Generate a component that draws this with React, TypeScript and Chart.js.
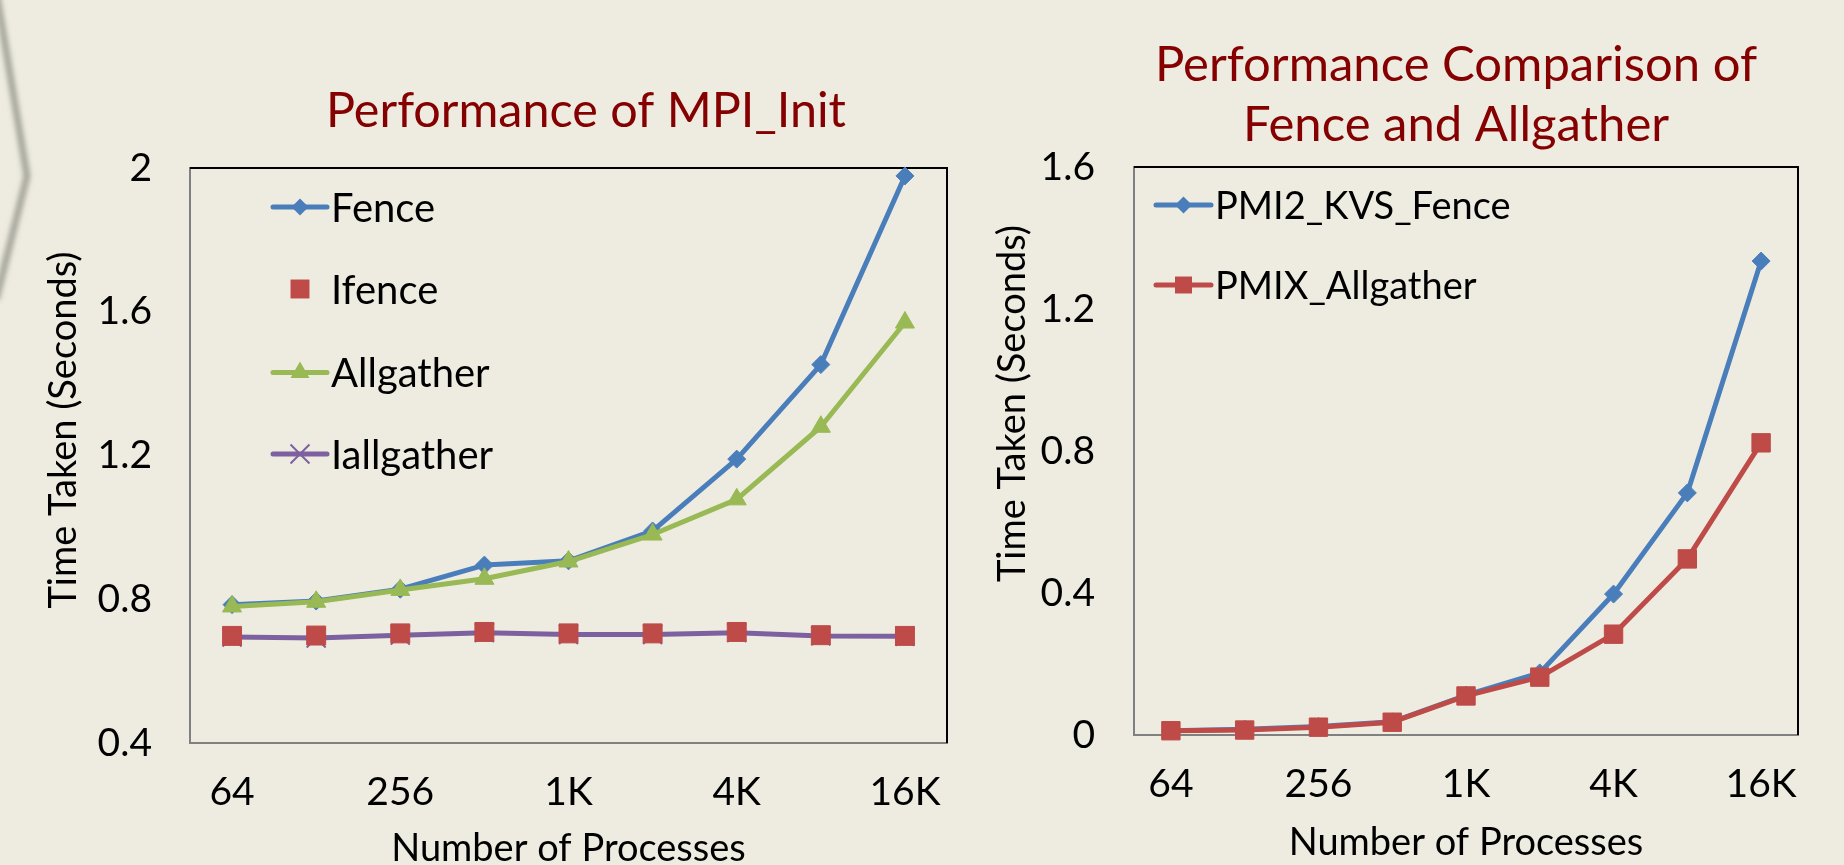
import React, { useEffect, useRef } from 'react';
import { Chart, registerables } from 'chart.js';

Chart.register(...registerables);

// ---------- data ----------
const categories = ['64', '128', '256', '512', '1K', '2K', '4K', '8K', '16K'];
const xTickLabels = ['64', '', '256', '', '1K', '', '4K', '', '16K'];

const fence = [0.785, 0.795, 0.828, 0.895, 0.907, 0.99, 1.19, 1.453, 1.978];
const ifence = [0.698, 0.699, 0.705, 0.709, 0.705, 0.705, 0.709, 0.7, 0.698];
const allgather = [0.78, 0.793, 0.826, 0.857, 0.905, 0.98, 1.078, 1.28, 1.57];
const iallgather = [0.695, 0.692, 0.7, 0.707, 0.702, 0.702, 0.707, 0.698, 0.697];

const pmi2KvsFence = [0.012, 0.016, 0.024, 0.037, 0.112, 0.175, 0.397, 0.682, 1.335];
const pmixAllgather = [0.012, 0.014, 0.022, 0.036, 0.11, 0.163, 0.284, 0.496, 0.823];

const leftTitle = 'Performance of MPI_Init';
const rightTitle = ['Performance Comparison of', 'Fence and Allgather'];
const xTitle = 'Number of Processes';
const yTitle = 'Time Taken (Seconds)';

// ---------- styles ----------
const FONT = 'Lato';
const BG = '#EEECE1';
const BLUE = '#4A7EBB';
const RED = '#BE4B48';
const GREEN = '#98B954';
const PURPLE = '#7D60A0';
const TITLE_RED = '#850000';
const AXIS_GREY = '#808080';

Chart.defaults.font.family = FONT;
Chart.defaults.color = '#000';

type Marker = 'rectRot' | 'rect' | 'triangle' | 'crossRot';

function drawMarker(ctx: CanvasRenderingContext2D, m: Marker, x: number, y: number, r: number, color: string) {
  ctx.save();
  ctx.fillStyle = color;
  ctx.strokeStyle = color;
  ctx.beginPath();
  if (m === 'rectRot') {
    ctx.moveTo(x, y - r);
    ctx.lineTo(x + r, y);
    ctx.lineTo(x, y + r);
    ctx.lineTo(x - r, y);
    ctx.closePath();
    ctx.fill();
  } else if (m === 'rect') {
    const h = r * Math.SQRT1_2;
    ctx.rect(x - h, y - h, 2 * h, 2 * h);
    ctx.fill();
  } else if (m === 'triangle') {
    const s = Math.sin((2 * Math.PI) / 3) * r;
    ctx.moveTo(x, y - r);
    ctx.lineTo(x + s, y + r / 2);
    ctx.lineTo(x - s, y + r / 2);
    ctx.closePath();
    ctx.fill();
  } else {
    const d = r * Math.SQRT1_2;
    ctx.lineWidth = 2;
    ctx.moveTo(x - d, y - d);
    ctx.lineTo(x + d, y + d);
    ctx.moveTo(x + d, y - d);
    ctx.lineTo(x - d, y + d);
    ctx.stroke();
  }
  ctx.restore();
}

interface LegendCfg {
  fontSize: number;
  lineX0: number;
  lineX1: number;
  textX: number;
  rows: number[];
  lineFor: boolean[];
}

function makeSlidePlugin(id: string, legend: LegendCfg, yTitleCfg: { dx: number; dy: number; size: number }, titleShift: number) {
  return {
    id,
    afterLayout(chart: any) {
      const tb = chart.titleBlock;
      const ca = chart.chartArea;
      if (tb && ca) {
        tb.left = ca.left + titleShift;
        tb.right = ca.right + titleShift;
      }
    },
    beforeDatasetsDraw(chart: any) {
      const { ctx, chartArea: ca } = chart;
      ctx.save();
      ctx.strokeStyle = '#000';
      ctx.lineWidth = 2;
      ctx.beginPath();
      ctx.moveTo(ca.left, ca.top);
      ctx.lineTo(ca.right, ca.top);
      ctx.lineTo(ca.right, ca.bottom);
      ctx.stroke();
      ctx.restore();
    },
    afterDraw(chart: any) {
      const { ctx, chartArea: ca } = chart;
      // legend
      ctx.save();
      ctx.font = `${legend.fontSize}px ${FONT}`;
      ctx.textBaseline = 'middle';
      ctx.textAlign = 'left';
      chart.data.datasets.forEach((ds: any, i: number) => {
        const y = ca.top + legend.rows[i];
        const x0 = ca.left + legend.lineX0;
        const x1 = ca.left + legend.lineX1;
        if (legend.lineFor[i]) {
          ctx.save();
          ctx.strokeStyle = ds.borderColor;
          ctx.lineWidth = 5;
          ctx.lineCap = 'round';
          ctx.beginPath();
          ctx.moveTo(x0, y);
          ctx.lineTo(x1, y);
          ctx.stroke();
          ctx.restore();
        }
        drawMarker(ctx, ds.pointStyle, (x0 + x1) / 2, y, ds.legendRadius, ds.pointBackgroundColor);
        ctx.fillStyle = '#000';
        ctx.fillText(ds.label, ca.left + legend.textX, y + 2);
      });
      ctx.restore();
      // rotated y axis title
      ctx.save();
      ctx.font = `${yTitleCfg.size}px ${FONT}`;
      ctx.fillStyle = '#000';
      ctx.textAlign = 'center';
      ctx.textBaseline = 'middle';
      ctx.translate(ca.left + yTitleCfg.dx, ca.top + yTitleCfg.dy);
      ctx.rotate(-Math.PI / 2);
      ctx.fillText(yTitle, 0, 0);
      ctx.restore();
    },
  };
}

function fmt(v: number) {
  return String(Number(Number(v).toFixed(1)));
}

function xScale(height: number, titlePadBottom: number) {
  return {
    type: 'category' as const,
    offset: true,
    grid: { display: false, drawTicks: false, z: -1 },
    border: { display: true, color: AXIS_GREY, width: 2 },
    ticks: {
      autoSkip: false,
      maxRotation: 0,
      padding: 26,
      color: '#000',
      font: { size: 39 },
      callback: (_v: any, i: number) => xTickLabels[i],
    },
    title: {
      display: true,
      text: xTitle,
      color: '#000',
      font: { size: 38 },
      padding: { top: 0, bottom: titlePadBottom },
    },
    afterFit: (s: any) => {
      s.height = height;
    },
  };
}

function yScale(min: number, max: number, width: number, pad: number) {
  return {
    type: 'linear' as const,
    min,
    max,
    grid: { display: false, drawTicks: false, z: -1 },
    border: { display: true, color: AXIS_GREY, width: 2 },
    ticks: {
      stepSize: 0.4,
      padding: pad,
      color: '#000',
      font: { size: 39 },
      callback: (v: any) => fmt(v),
    },
    afterFit: (s: any) => {
      s.width = width;
    },
  };
}

export default function App() {
  const leftRef = useRef<HTMLCanvasElement>(null);
  const rightRef = useRef<HTMLCanvasElement>(null);

  useEffect(() => {
    const left = new Chart(leftRef.current as HTMLCanvasElement, {
      type: 'line',
      data: {
        labels: categories,
        datasets: [
          {
            label: 'Fence', data: fence, borderColor: BLUE, backgroundColor: BLUE, borderWidth: 5,
            pointStyle: 'rectRot', pointRadius: 9, pointBackgroundColor: BLUE, pointBorderColor: BLUE,
            pointBorderWidth: 1, order: 4, legendRadius: 8.5,
          } as any,
          {
            label: 'Ifence', data: ifence, borderColor: RED, backgroundColor: RED, showLine: false,
            pointStyle: 'rect', pointRadius: 13.4, pointBackgroundColor: RED, pointBorderColor: RED,
            pointBorderWidth: 1, order: 1, legendRadius: 13.4,
          } as any,
          {
            label: 'Allgather', data: allgather, borderColor: GREEN, backgroundColor: GREEN, borderWidth: 5,
            pointStyle: 'triangle', pointRadius: 11, pointBackgroundColor: GREEN, pointBorderColor: GREEN,
            pointBorderWidth: 1, order: 3, legendRadius: 11,
          } as any,
          {
            label: 'Iallgather', data: iallgather, borderColor: PURPLE, backgroundColor: PURPLE, borderWidth: 5,
            pointStyle: 'crossRot', pointRadius: 13.4, pointBackgroundColor: PURPLE, pointBorderColor: PURPLE,
            pointBorderWidth: 2, order: 2, legendRadius: 13.4,
          } as any,
        ],
      },
      options: {
        animation: false,
        responsive: false,
        events: [],
        clip: false as any,
        elements: { line: { tension: 0, borderJoinStyle: 'round', borderCapStyle: 'round' } },
        layout: { padding: { left: 0, right: 53, top: 0, bottom: 0 } },
        plugins: {
          legend: { display: false },
          tooltip: { enabled: false },
          title: {
            display: true,
            text: leftTitle,
            color: TITLE_RED,
            font: { size: 48.5, weight: 'normal', lineHeight: 56.4 / 48.5 },
            padding: { top: 82.8, bottom: 28.8 },
          },
        },
        scales: {
          x: xScale(157, 28),
          y: yScale(0.4, 2, 190, 38),
        },
      } as any,
      plugins: [
        makeSlidePlugin(
          'slideLeft',
          { fontSize: 40, lineX0: 83, lineX1: 137, textX: 141, rows: [39, 121, 204.5, 286], lineFor: [true, false, true, true] },
          { dx: -126, dy: 262, size: 38 },
          17.5,
        ),
      ],
    });

    const right = new Chart(rightRef.current as HTMLCanvasElement, {
      type: 'line',
      data: {
        labels: categories,
        datasets: [
          {
            label: 'PMI2_KVS_Fence', data: pmi2KvsFence, borderColor: BLUE, backgroundColor: BLUE, borderWidth: 5,
            pointStyle: 'rectRot', pointRadius: 9, pointBackgroundColor: BLUE, pointBorderColor: BLUE,
            pointBorderWidth: 1, order: 2, legendRadius: 8.5,
          } as any,
          {
            label: 'PMIX_Allgather', data: pmixAllgather, borderColor: RED, backgroundColor: RED, borderWidth: 5,
            pointStyle: 'rect', pointRadius: 13, pointBackgroundColor: RED, pointBorderColor: RED,
            pointBorderWidth: 1, order: 1, legendRadius: 12,
          } as any,
        ],
      },
      options: {
        animation: false,
        responsive: false,
        events: [],
        clip: false as any,
        elements: { line: { tension: 0, borderJoinStyle: 'round', borderCapStyle: 'round' } },
        layout: { padding: { left: 0, right: 46, top: 0, bottom: 0 } },
        plugins: {
          legend: { display: false },
          tooltip: { enabled: false },
          title: {
            display: true,
            text: rightTitle,
            color: TITLE_RED,
            font: { size: 49, weight: 'normal', lineHeight: 60 / 49 },
            padding: { top: 35.5, bottom: 11.5 },
          },
        },
        scales: {
          x: xScale(165, 34),
          y: yScale(0, 1.6, 154, 39),
        },
      } as any,
      plugins: [
        makeSlidePlugin(
          'slideRight',
          { fontSize: 38, lineX0: 22, lineX1: 77, textX: 81, rows: [38, 118], lineFor: [true, true] },
          { dx: -121, dy: 236.5, size: 38 },
          -10,
        ),
      ],
    });

    return () => {
      left.destroy();
      right.destroy();
    };
  }, []);

  return (
    <div
      style={{
        position: 'fixed',
        left: 0,
        top: 0,
        width: 1844,
        height: 865,
        background: BG,
        overflow: 'hidden',
      }}
    >
      <svg width={80} height={320} style={{ position: 'absolute', left: 0, top: 0 }}>
        <defs>
          <filter id="edgeBlur" x="-50%" y="-50%" width="200%" height="200%">
            <feGaussianBlur stdDeviation="2.5" />
          </filter>
        </defs>
        <polyline
          points="-4,-10 27,176 -4,300"
          fill="none"
          stroke="rgba(120,120,110,0.6)"
          strokeWidth={7}
          filter="url(#edgeBlur)"
        />
      </svg>
      <div style={{ position: 'absolute', left: 0, top: 0, width: 1000, height: 900 }}>
        <canvas ref={leftRef} width={1000} height={900} style={{ display: 'block' }} />
      </div>
      <div style={{ position: 'absolute', left: 980, top: 0, width: 864, height: 900 }}>
        <canvas ref={rightRef} width={864} height={900} style={{ display: 'block' }} />
      </div>
    </div>
  );
}
